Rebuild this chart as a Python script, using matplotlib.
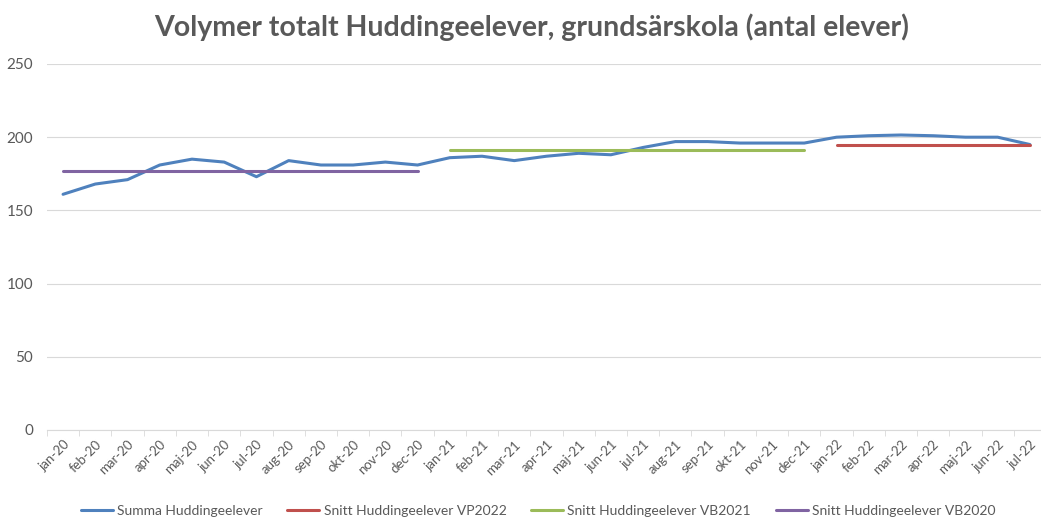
import matplotlib.pyplot as plt

months = ["jan-20", "feb-20", "mar-20", "apr-20", "maj-20", "jun-20", "jul-20", "aug-20",
          "sep-20", "okt-20", "nov-20", "dec-20", "jan-21", "feb-21", "mar-21", "apr-21",
          "maj-21", "jun-21", "jul-21", "aug-21", "sep-21", "okt-21", "nov-21", "dec-21",
          "jan-22", "feb-22", "mar-22", "apr-22", "maj-22", "jun-22", "jul-22"]
summa = [161, 168, 171, 181, 185, 183, 173, 184, 181, 181, 183, 181,
         186, 187, 184, 187, 189, 188, 193, 197, 197, 196, 196, 196,
         200, 201, 201.5, 201, 200, 200, 195]
snitt_vp2022 = [None] * 24 + [195] * 7
snitt_vb2021 = [None] * 12 + [191] * 12 + [None] * 7
snitt_vb2020 = [177] * 12 + [None] * 19

plt.rcParams['font.family'] = ['Lato', 'DejaVu Sans']
gray = '#595959'

fig = plt.figure(figsize=(10.41, 5.19), dpi=100)
ax = fig.add_axes([0.0451, 0.1715, 0.9597, 0.7052])

x = list(range(len(months)))
def nz(vals):
    return [float('nan') if v is None else v for v in vals]

ax.plot(x, summa, color='#4F81BD', lw=2.2, label='Summa Huddingeelever', solid_capstyle='round')
ax.plot(x, nz(snitt_vp2022), color='#C0504D', lw=2.2, label='Snitt Huddingeelever VP2022', solid_capstyle='round')
ax.plot(x, nz(snitt_vb2021), color='#9BBB59', lw=2.2, label='Snitt Huddingeelever VB2021', solid_capstyle='round')
ax.plot(x, nz(snitt_vb2020), color='#8064A2', lw=2.2, label='Snitt Huddingeelever VB2020', solid_capstyle='round')

ax.set_xlim(-0.5, len(months) - 0.5)
ax.set_ylim(0, 250)
ax.set_yticks(range(0, 251, 50))
ax.grid(axis='y', color='#d9d9d9', lw=0.8)
ax.set_axisbelow(True)
for s in ['top', 'right', 'left']:
    ax.spines[s].set_visible(False)
ax.spines['bottom'].set_color('#d9d9d9')

ax.set_xticks(x)
ax.set_xticklabels(months, rotation=45, ha='right', rotation_mode='anchor', color=gray, fontsize=9.5)
ax.set_xticks([i - 0.5 for i in range(len(months) + 1)], minor=True)
ax.tick_params(axis='x', which='major', length=0, pad=6)
ax.tick_params(axis='x', which='minor', length=4, color='#d9d9d9')
ax.tick_params(axis='y', length=0, labelcolor=gray, labelsize=11, pad=10)

fig.suptitle('Volymer totalt Huddingeelever, grundsärskola (antal elever)', x=0.511, y=0.975,
             fontsize=20.5, fontweight='bold', color=gray)

fig.legend(loc='lower center', ncol=4, frameon=False, bbox_to_anchor=(0.517, -0.02),
           fontsize=10, labelcolor=gray, handlelength=2.3, handletextpad=0.3, columnspacing=1.8)

fig.savefig('out.png', dpi=100)
